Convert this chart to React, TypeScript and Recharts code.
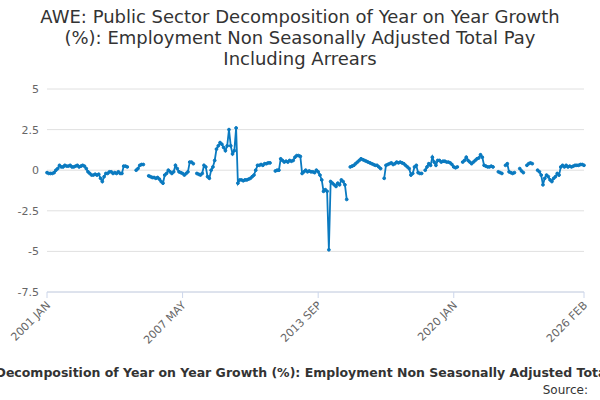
import React from "react";
import { LineChart, Line, XAxis, YAxis, CartesianGrid } from "recharts";

const years = [
  [-0.15, -0.2, -0.2, -0.2, -0.15, 0, 0.1, 0.3, 0.2, 0.2, 0.3, 0.25],
  [0.25, 0.3, 0.2, 0.2, 0.25, 0.3, 0.2, 0.25, 0.3, 0.25, 0.1, -0.1],
  [-0.2, -0.3, -0.3, -0.25, -0.3, -0.25, -0.5, -0.7, -0.4, -0.2, -0.2, -0.1],
  [-0.1, -0.2, -0.15, -0.2, -0.1, -0.2, -0.2, 0.25, 0.25, 0.2, null, null],
  [null, null, 0, 0.1, 0.3, 0.35, 0.35, null, null, -0.35, -0.4, -0.45],
  [-0.45, -0.5, -0.45, -0.55, -0.7, -0.8, -0.3, -0.2, 0, -0.1, -0.2, -0.1],
  [0.3, 0.1, -0.1, -0.15, -0.2, -0.3, -0.2, -0.1, 0.5, 0.5, 0.4, null],
  [-0.2, -0.25, -0.3, -0.2, 0.3, 0.2, -0.4, -0.5, 0, 0.2, 0.6, 1.3],
  [1.5, 1.7, 1.6, 1.4, 1.2, 1.5, 2.5, 1.5, 1.0, 1.2, 2.6, -0.8],
  [-0.6, -0.6, -0.65, -0.6, -0.6, -0.55, -0.5, -0.4, -0.3, 0, 0.3, 0.3],
  [0.35, 0.3, 0.4, 0.4, 0.45, 0.45, null, null, -0.05, 0, 0, 0.7],
  [0.6, 0.5, 0.55, 0.5, 0.6, 0.55, 0.6, 0.8, 0.9, 0.9, 0.85, -0.2],
  [-0.1, 0, -0.1, -0.05, -0.1, -0.1, -0.15, 0, -0.1, -0.3, -0.6, -1.3],
  [-1.2, -1.3, -4.9, -0.7, -0.8, -0.9, -1.0, -0.8, -0.9, -0.6, -0.7, -0.9],
  [-1.8, null, 0.2, 0.25, 0.3, 0.4, 0.5, 0.6, 0.7, 0.65, 0.6, 0.55],
  [0.5, 0.45, 0.4, 0.35, 0.3, 0.3, 0.2, 0.1, null, -0.5, 0.3, 0.35],
  [0.4, 0.45, 0.35, 0.4, 0.5, 0.45, 0.5, 0.45, 0.4, 0.3, 0.2, 0.1],
  [-0.3, -0.2, 0.2, 0.3, -0.15, -0.2, -0.2, null, 0, 0.2, 0.4, 0.3],
  [0.8, 0.5, 0.3, 0.6, 0.6, 0.5, 0.55, 0.55, 0.5, 0.5, 0.45, 0.35],
  [0.2, 0.15, 0.2, null, null, 0.5, 0.6, 0.8, 0.6, 0.5, 0.4, 0.5],
  [0.6, 0.7, 0.75, 0.95, 0.8, 0.3, 0.25, 0.2, 0.2, 0.25, 0.2, null],
  [null, -0.1, -0.15, -0.2, null, 0.3, 0.4, -0.1, -0.15, -0.2, -0.15, null],
  [null, 0.1, -0.05, -0.15, null, 0.3, 0.4, 0.45, 0.4, null, null, 0],
  [-0.1, -0.3, -0.9, -0.5, -0.3, -0.4, -0.6, -0.7, -0.5, -0.4, -0.2, -0.3],
  [0.2, 0.3, 0.2, 0.3, 0.2, 0.25, 0.2, 0.25, 0.3, 0.3, 0.3, 0.35],
  [0.35, 0.3],
];

const xTicks = [0, 76, 152, 228, 301];
const xTickLabels = ["2001 JAN", "2007 MAY", "2013 SEP", "2020 JAN", "2026 FEB"];
const yTicks = [-7.5, -5, -2.5, 0, 2.5, 5];

const values = years.flat();
const data = values.map((v, i) => ({ i, v }));

const titleLines = [
  "AWE: Public Sector Decomposition of Year on Year Growth",
  "(%): Employment Non Seasonally Adjusted Total Pay",
  "Including Arrears",
];
const title = titleLines.join(" ");

const XTick = (props: any) => {
  const { x, y, payload } = props;
  const label = xTickLabels[xTicks.indexOf(payload.value)];
  return (
    <text x={x + 4} y={y + 6} transform={`rotate(-45 ${x + 4} ${y + 6})`} textAnchor="end" fontSize={11} fill="#666" fontFamily="DejaVu Sans">
      {label}
    </text>
  );
};

export default function App() {
  return (
    <div style={{ position: "absolute", left: 0, top: 0, width: 600, height: 400, background: "#fff", fontFamily: "DejaVu Sans", overflow: "hidden" }}>
      <div style={{ position: "absolute", top: 6, left: 0, width: 600, textAlign: "center", fontSize: 18, lineHeight: "21px", color: "#333" }}>
        {titleLines.map((l) => (
          <div key={l}>{l}</div>
        ))}
      </div>
      <LineChart width={600} height={400} data={data} margin={{ top: 89, right: 16, left: 0, bottom: 0 }}>
        <CartesianGrid vertical={false} stroke="#e0e0e0" />
        <XAxis
          dataKey="i"
          type="number"
          domain={[0, 301]}
          ticks={xTicks}
          tick={<XTick />}
          height={108}
          stroke="#ccd6eb"
          tickLine={{ stroke: "#ccd6eb" }}
        />
        <YAxis
          domain={[-7.5, 5]}
          ticks={yTicks}
          width={47}
          axisLine={false}
          tickLine={false}
          tick={{ fontSize: 11, fill: "#666", fontFamily: "DejaVu Sans" }}
          tickFormatter={(v) => String(v)}
        />
        <Line
          dataKey="v"
          stroke="#0a7ac0"
          strokeWidth={1.8}
          dot={{ r: 1.4, fill: "#0a7ac0", stroke: "#0a7ac0", strokeWidth: 1 }}
          isAnimationActive={false}
        />
      </LineChart>
      <div style={{ position: "absolute", top: 365, left: -288, width: 1200, textAlign: "center", fontSize: 12.5, fontWeight: "bold", color: "#333", whiteSpace: "nowrap" }}>
        {title}
      </div>
      <div style={{ position: "absolute", top: 383, right: 12, fontSize: 12, color: "#333" }}>Source:</div>
    </div>
  );
}
